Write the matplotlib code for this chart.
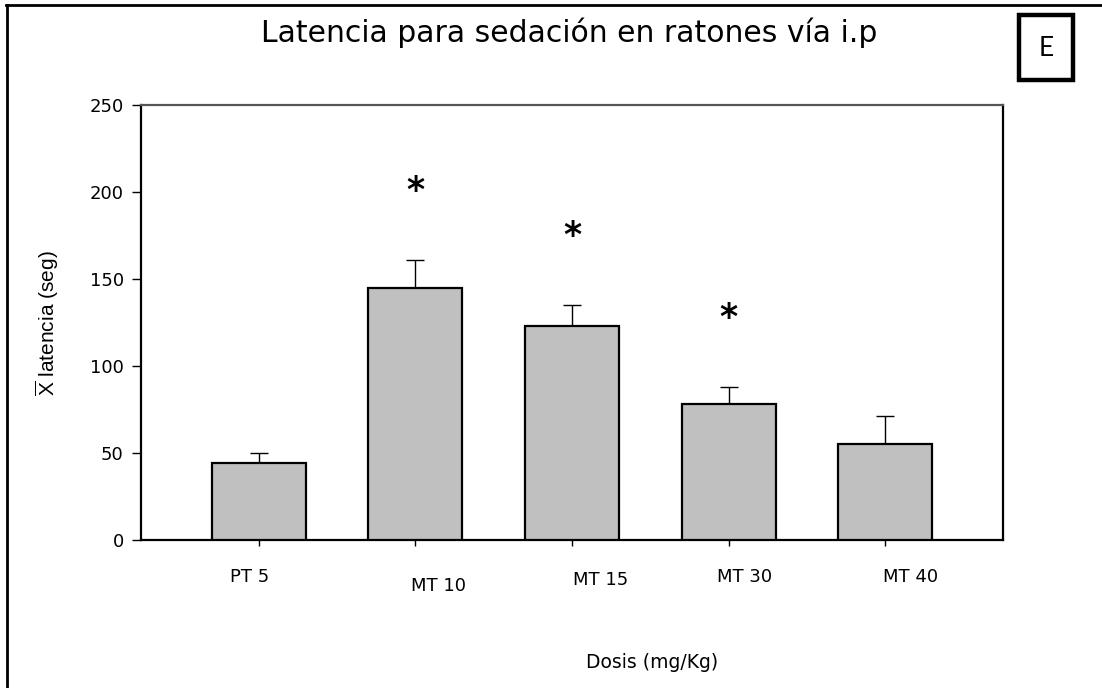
import numpy as np
import matplotlib.pyplot as plt
from matplotlib.patches import Rectangle
from matplotlib.lines import Line2D
import matplotlib.transforms as mtransforms

# data
dosis = ["PT 5", "MT 10", "MT 15", "MT 30", "MT 40"]
latencia = [44, 145, 123, 78, 55]
error = [6, 16, 12, 10, 16]
significativo = [False, True, True, True, False]

plt.rcParams['font.family'] = 'DejaVu Sans'
plt.rcParams['mathtext.fontset'] = 'custom'
plt.rcParams['mathtext.rm'] = 'Liberation Sans'

fig = plt.figure(figsize=(11.02, 6.88), dpi=100)
W, H = 1102, 688
ax = fig.add_axes([141 / W, 1 - 540 / H, (1003 - 141) / W, (540 - 105) / H])

x = np.arange(len(dosis))
ax.bar(x, latencia, width=0.6, color='#c0c0c0', edgecolor='black', linewidth=1.6, zorder=3)
ax.errorbar(x, latencia, yerr=[np.zeros(len(error)), error], fmt='none', ecolor='black',
            elinewidth=1.0, capsize=6.5, capthick=1.0, zorder=2)

# asterisks over the significant groups
for xi, m, e, s in zip(x, latencia, error, significativo):
    if s:
        ax.annotate('*', (xi, m + e + 45), xytext=(0, -14), textcoords='offset points',
                    ha='center', va='baseline', fontsize=25, fontweight='bold')

ax.set_xlim(-0.75, 4.75)
ax.set_ylim(0, 250)
ax.set_yticks(range(0, 251, 50))
ax.tick_params(axis='y', direction='out', length=6.5, width=1.0, labelsize=13, pad=6)
ax.set_xticks(x)
ax.set_xticklabels([])
ax.tick_params(axis='x', direction='out', length=4.5, width=1.0)

# x tick labels are staggered in the original
trans = mtransforms.blended_transform_factory(ax.transData, ax.transAxes)
lab_dx = [-0.055, 0.147, 0.185, 0.10, 0.16]
lab_y = [-0.085, -0.106, -0.092, -0.085, -0.085]
for xi, lab, dx, yy in zip(x, dosis, lab_dx, lab_y):
    ax.text(xi + dx, yy, lab, transform=trans, ha='center', va='center', fontsize=13)

for side in ['left', 'bottom', 'right']:
    ax.spines[side].set_linewidth(1.6)
ax.spines['top'].set_linewidth(1.6)
ax.spines['top'].set_color('#555555')

fig.text(569 / W, 1 - 33 / H, "Latencia para sedación en ratones vía i.p", ha='center',
         va='center', fontsize=21.5)
fig.text(652 / W, 1 - 663 / H, "Dosis (mg/Kg)", ha='center', va='center', fontsize=13.5)
fig.text(47 / W, 1 - 323 / H, r"$\overline{\mathrm{X}}$ latencia (seg)", rotation=90,
         ha='center', va='center', fontsize=15, family='Liberation Sans')

# "E" panel box
fig.add_artist(Rectangle((1019 / W, 1 - 80 / H), 54 / W, 65 / H, transform=fig.transFigure,
                         fill=False, edgecolor='black', linewidth=3.2))
fig.text(1046 / W, 1 - 48 / H, "E", ha='center', va='center', fontsize=19, family='Lato')

# outer frame (top and left)
fig.add_artist(Line2D([6 / W, 1], [1 - 5 / H, 1 - 5 / H], transform=fig.transFigure,
                      color='black', linewidth=2.0))
fig.add_artist(Line2D([7 / W, 7 / W], [0, 1 - 5 / H], transform=fig.transFigure,
                      color='black', linewidth=2.0))

fig.savefig('out.png', dpi=100)
